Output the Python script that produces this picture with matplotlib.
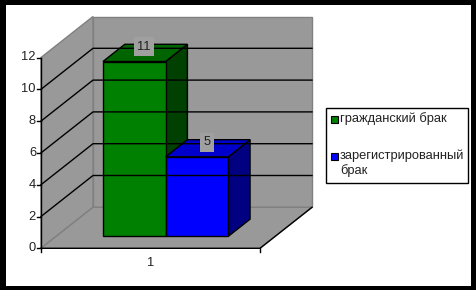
import matplotlib.pyplot as plt
from matplotlib.patches import Polygon, Rectangle

plt.rcParams['font.family'] = ['Liberation Sans', 'DejaVu Sans']

# data
categories = ['1']
series_names = ['гражданский брак', 'зарегистрированный\nбрак']
values = [11, 5]
front_colors = ['#008000', '#0000ff']
top_colors = ['#006400', '#0000cc']
side_colors = ['#004000', '#000080']
y_ticks = [0, 2, 4, 6, 8, 10, 12]

# pseudo-3d (oblique) projection in pixel space
X0, Y0 = 41, 248.3      # front-left floor corner
W = 219                 # width of the category band
S = 15.9                # pixels per value unit
DX, DY = 52, 41         # offset of the full depth
VMAX = max(y_ticks)
FS = 9.3


def proj(u, z, v):
    return (X0 + u * W + z * DX, Y0 - v * S - z * DY)


fig = plt.figure(figsize=(4.76, 2.90), dpi=100)
fig.patch.set_facecolor('black')
ax = fig.add_axes([0, 0, 1, 1])
ax.set_xlim(0, 476)
ax.set_ylim(290, 0)
ax.axis('off')
ax.add_patch(Rectangle((6, 5), 465, 281, facecolor='white', edgecolor='none'))

wall = '#999999'
edge = '#808080'
# back wall, left wall, floor
ax.add_patch(Polygon([proj(0, 1, 0), proj(1, 1, 0), proj(1, 1, VMAX), proj(0, 1, VMAX)],
                     facecolor=wall, edgecolor=edge, lw=1))
ax.add_patch(Polygon([proj(0, 0, 0), proj(0, 1, 0), proj(0, 1, VMAX), proj(0, 0, VMAX)],
                     facecolor=wall, edgecolor=edge, lw=1))
ax.add_patch(Polygon([proj(0, 0, 0), proj(1, 0, 0), proj(1, 1, 0), proj(0, 1, 0)],
                     facecolor=wall, edgecolor=edge, lw=1))

# gridlines on left and back walls
for t in y_ticks[1:-1]:
    xs, ys = zip(proj(0, 0, t), proj(0, 1, t), proj(1, 1, t))
    ax.plot(xs, ys, color='black', lw=1)

# floor front edge / right edge (axis)
xs, ys = zip(proj(0, 0, 0), proj(1, 0, 0), proj(1, 1, 0))
ax.plot(xs, ys, color='black', lw=1)
# value axis
xs, ys = zip(proj(0, 0, 0), proj(0, 0, VMAX))
ax.plot(xs, ys, color='black', lw=1)
for t in y_ticks:
    x, y = proj(0, 0, t)
    ax.plot([x - 4, x], [y, y], color='black', lw=1)
    ax.text(x - 5, y, str(t), ha='right', va='center', fontsize=FS, color='#222222')
for u in [0, 1]:
    x, y = proj(u, 0, 0)
    ax.plot([x, x], [y, y + 4], color='black', lw=1)
x, y = proj(0.5, 0, 0)
ax.text(x, y + 15, categories[0], ha='center', va='center', fontsize=FS, color='#222222')

# bars
z0, z1 = 0.29, 0.71
u_start, bar_w = 0.214, 0.286
for i, v in enumerate(values):
    u0 = u_start + i * bar_w
    u1 = u0 + bar_w
    front = [proj(u0, z0, 0), proj(u1, z0, 0), proj(u1, z0, v), proj(u0, z0, v)]
    top = [proj(u0, z0, v), proj(u1, z0, v), proj(u1, z1, v), proj(u0, z1, v)]
    side = [proj(u1, z0, 0), proj(u1, z1, 0), proj(u1, z1, v), proj(u1, z0, v)]
    ax.add_patch(Polygon(side, facecolor=side_colors[i], edgecolor='black', lw=1))
    ax.add_patch(Polygon(top, facecolor=top_colors[i], edgecolor='black', lw=1))
    ax.add_patch(Polygon(front, facecolor=front_colors[i], edgecolor='black', lw=1))
    lx, ly = proj((u0 + u1) / 2, 0.5, v)
    ax.text(lx - 1, ly - 6, str(v), ha='center', va='center', fontsize=FS, color='#222222',
            bbox=dict(facecolor='#a0a0a0', edgecolor='none', pad=2.5))

# legend
ax.add_patch(Rectangle((326, 108), 142, 75, facecolor='white', edgecolor='black', lw=1))
legend_y = [119, 156]
for i, name in enumerate(series_names):
    ax.add_patch(Rectangle((331, legend_y[i] - 3.5), 7, 7, facecolor=front_colors[i],
                           edgecolor='black', lw=0.8))
    ax.text(340, legend_y[i] - 6.5, name, ha='left', va='top', fontsize=FS,
            color='#222222', linespacing=1.25)

fig.savefig('out.png', dpi=100, facecolor=fig.get_facecolor())
